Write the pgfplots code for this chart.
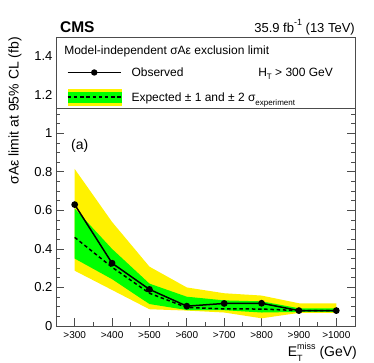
\documentclass[border=0pt]{standalone}
\usepackage{fontspec}
\setmainfont{Liberation Sans}
\usepackage{pgfplots}
\pgfplotsset{compat=1.18}
\definecolor{frm}{gray}{0.3}
\newcommand{\fs}[1]{\fontsize{#1}{#1}\selectfont}
\begin{document}
\begin{tikzpicture}
\path[use as bounding box] (-56pt,-37pt) rectangle (318pt,326pt);
\begin{axis}[
  scale only axis, width=299pt, height=289pt,
  xmin=-0.5, xmax=7.5, ymin=0, ymax=1.5,
  clip=false,
  axis line style={frm, line width=0.8pt},
  every tick/.style={frm, line width=0.8pt},
  major tick length=8pt, minor tick length=4pt,
  xtick={0,...,7},
  xticklabels={>300,>400,>500,>600,>700,>800,>900,>1000},
  minor x tick num=1,
  ytick={0,0.2,0.4,0.6,0.8,1,1.2,1.4},
  minor y tick num=3,
  xtick pos=left, ytick pos=both, yticklabel pos=left,
  tick align=inside,
  xticklabel style={font=\fs{10}, yshift=-2pt},
  yticklabel style={font=\fs{13}},
  /pgf/number format/assume math mode=true,
  xlabel={E\makebox[0pt][l]{\raisebox{-0.3em}{\fs{9}T}}\raisebox{0.55em}{\fs{9}miss} (GeV)},
  every axis x label/.style={at={(axis description cs:1.007,-0.107)}, anchor=base east, inner sep=0pt, font=\fs{14}},
  ylabel={σAε limit at 95\% CL (fb)},
  every axis y label/.style={at={(axis description cs:-0.137,1.0)}, rotate=90, anchor=east, inner sep=0pt, font=\fs{14}},
  legend cell align=left,
  legend style={at={(axis description cs:0,1)}, anchor=north west, xshift=11pt, yshift=-29.8pt,
    draw=none, fill=none, inner sep=0pt, outer sep=0pt, row sep=10.8pt, column sep=10pt,
    font=\fs{12}, nodes={inner sep=0pt, text height=10pt, text depth=1.4pt}},
]
% +-2 sigma band
\addplot[fill=yellow, draw=none, forget plot] coordinates {
  (0,0.815) (1,0.54) (2,0.308) (3,0.2) (4,0.17) (5,0.158) (6,0.118) (7,0.118)
  (7,0.068) (6,0.068) (5,0.04) (4,0.07) (3,0.08) (2,0.087) (1,0.187) (0,0.287)};
% +-1 sigma band
\addplot[fill=green, draw=none, forget plot] coordinates {
  (0,0.61) (1,0.40) (2,0.22) (3,0.152) (4,0.133) (5,0.128) (6,0.092) (7,0.092)
  (7,0.073) (6,0.073) (5,0.07) (4,0.082) (3,0.083) (2,0.114) (1,0.243) (0,0.35)};
% expected
\addplot[black, line width=1.5pt, dash pattern=on 3.5pt off 2.7pt, forget plot] coordinates {
  (0,0.46) (1,0.305) (2,0.17) (3,0.096) (4,0.089) (5,0.088) (6,0.08) (7,0.08)};
% observed
\addplot[black, line width=1.5pt, mark=*, mark size=2.6pt, mark options={solid, fill=black},
  legend image code/.code={\draw[black, line width=1.5pt, mark repeat=2, mark phase=2, mark=*, mark size=2.4pt] plot coordinates {(0pt,0pt) (26.5pt,0pt) (53pt,0pt)};}]
  coordinates {
  (0,0.63) (1,0.326) (2,0.19) (3,0.103) (4,0.117) (5,0.118) (6,0.08) (7,0.08)};
\addlegendentry{Observed}
\addlegendimage{legend image code/.code={
  \fill[yellow] (0pt,-8pt) rectangle (53pt,8pt);
  \fill[green] (0pt,-5pt) rectangle (53pt,5pt);
  \draw[black, line width=1.5pt, dash pattern=on 3.5pt off 2.7pt] (0pt,0pt) -- (53pt,0pt);}}
\addlegendentry{Expected ± 1 and ± 2 σ\raisebox{-0.35em}{\fs{8}experiment}}
% legend box
\draw[frm, line width=0.8pt, fill=white] (axis cs:-0.5,1.127) rectangle (axis cs:7.5,1.5);
\node[anchor=base west, inner sep=0pt, font=\fs{12}] at (axis description cs:0.027,0.94) {Model-independent σAε exclusion limit};
\node[anchor=base west, inner sep=0pt, font=\fs{12}] at (axis description cs:0.676,0.862) {H\raisebox{-0.25em}{\fs{8}T} > 300 GeV};
\node[anchor=base west, inner sep=0pt, font=\fs{14}] at (axis cs:-0.1,0.918) {(a)};
\node[anchor=base west, inner sep=0pt, font=\bfseries\fs{15.5}] at (axis description cs:0.013,1.014) {CMS};
\node[anchor=base east, inner sep=0pt, font=\fs{13}] at (axis description cs:1,1.017) {35.9 fb\raisebox{0.5em}{\fs{9}-1} (13 TeV)};
\end{axis}
\end{tikzpicture}
\end{document}
